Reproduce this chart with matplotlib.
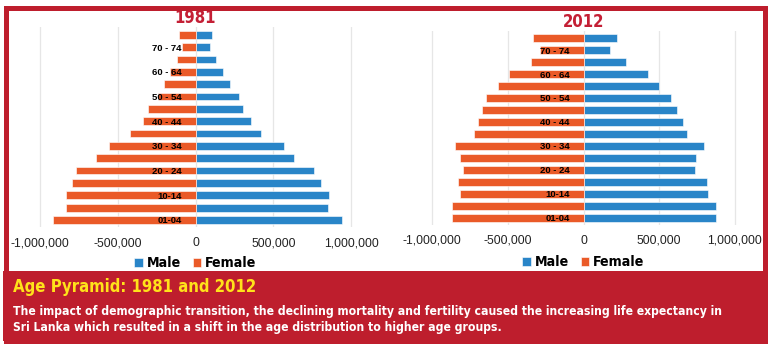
import numpy as np
import matplotlib
matplotlib.use('Agg')
import matplotlib.pyplot as plt
from matplotlib.patches import Rectangle
from matplotlib.ticker import FuncFormatter

# age groups, youngest first
ages = ['01-04', '05-09', '10-14', '15-19', '20-24', '25-29', '30-34', '35-39',
        '40-44', '45-49', '50-54', '55-59', '60-64', '65-69', '70-74', '75+']
shown = ['01-04', '10-14', '20 - 24', '30 - 34', '40 - 44', '50 - 54', '60 - 64', '70 - 74']

male_1981 = [942000, 852000, 861000, 809000, 762000, 635000, 567000, 418000,
             354000, 305000, 281000, 219000, 178000, 129000, 94000, 103000]
female_1981 = [-914000, -833000, -833000, -796000, -766000, -642000, -558000, -421000,
               -339000, -305000, -240000, -204000, -165000, -120000, -90000, -103000]

male_2012 = [877000, 877000, 824000, 817000, 738000, 742000, 797000, 683000,
             659000, 617000, 579000, 498000, 425000, 280000, 178000, 222000]
female_2012 = [-866000, -870000, -813000, -826000, -793000, -813000, -846000, -725000,
               -698000, -672000, -641000, -566000, -493000, -350000, -290000, -335000]

BLUE = '#2985C8'
ORANGE = '#EA5A28'
RED = '#BE1E2D'
NARROW = dict(family=['DejaVu Sans'], stretch='condensed', weight='bold')
W, H = 770, 350


def px_axes(fig, x0, x1, ytop, ybot):
    return fig.add_axes([x0 / W, 1 - ybot / H, (x1 - x0) / W, (ybot - ytop) / H])


def pyramid(ax, male, female, year, tpad, legy):
    y = np.arange(len(ages))
    ax.barh(y, male, height=0.63, color=BLUE, edgecolor='white', linewidth=0.4, label='Male', zorder=2)
    ax.barh(y, female, height=0.63, color=ORANGE, edgecolor='white', linewidth=0.4, label='Female', zorder=2)
    ax.set_xlim(-1050000, 1050000)
    ax.set_ylim(-0.6, 15.6)
    ax.set_xticks([-1000000, -500000, 0, 500000, 1000000])
    ax.xaxis.set_major_formatter(FuncFormatter(lambda v, p: f'{v:,.0f}'))
    ax.tick_params(axis='x', length=0, labelsize=8.7, pad=7, labelcolor='#222222')
    ax.grid(axis='x', color='#E6E6E6', linewidth=0.9, zorder=0)
    ax.set_yticks(y[::2])
    ax.set_yticklabels(shown)
    ax.spines['left'].set_position(('data', 0))
    ax.yaxis.set_zorder(5)
    for s in ax.spines.values():
        s.set_visible(False)
    ax.tick_params(axis='y', length=0, pad=10)
    for t in ax.get_yticklabels():
        t.set_fontweight('bold')
        t.set_fontsize(6.8)
        t.set_family(['Liberation Sans', 'DejaVu Sans'])
    for t in ax.get_xticklabels():
        t.set_family(['Liberation Sans', 'DejaVu Sans'])
    ax.set_title(year, color='#C41F35', fontsize=12, pad=tpad, **NARROW)
    leg = ax.legend(loc='center', bbox_to_anchor=(0.5, legy), ncol=2, frameon=False,
                    handlelength=0.6, handleheight=0.6, handletextpad=0.3, columnspacing=0.8,
                    borderpad=0, prop=dict(size=10.2, **NARROW))
    return leg


fig = plt.figure(figsize=(W / 100, H / 100), dpi=100)
fig.patch.set_facecolor('white')

# frame and bottom caption panel
fig.patches.append(Rectangle((3 / W, 1 - 341 / H), 764 / W, 70 / H, transform=fig.transFigure,
                             facecolor=RED, edgecolor='none', zorder=0))
fig.patches.append(Rectangle((5.5 / W, 1 - 341 / H), 759 / W, 333.5 / H, transform=fig.transFigure,
                             facecolor='none', edgecolor=RED, linewidth=3.6, zorder=0))

ax1 = px_axes(fig, 32.2, 358.8, 27.4, 227.4)
pyramid(ax1, male_1981, female_1981, '1981', 2, -0.178)

ax2 = px_axes(fig, 424.5, 742.5, 30.8, 225.2)
pyramid(ax2, male_2012, female_2012, '2012', -0.5, -0.19)

fig.text(13 / W, 1 - 287 / H, 'Age Pyramid: 1981 and 2012', color='#FFE21A', fontsize=12,
         va='center', ha='left', **NARROW)
fig.text(13 / W, 1 - 311 / H,
         'The impact of demographic transition, the declining mortality and fertility caused the increasing life expectancy in',
         color='white', fontsize=8.7, va='center', ha='left', **NARROW)
fig.text(13 / W, 1 - 328 / H,
         'Sri Lanka which resulted in a shift in the age distribution to higher age groups.',
         color='white', fontsize=8.7, va='center', ha='left', **NARROW)

fig.savefig('out.png', dpi=100)
